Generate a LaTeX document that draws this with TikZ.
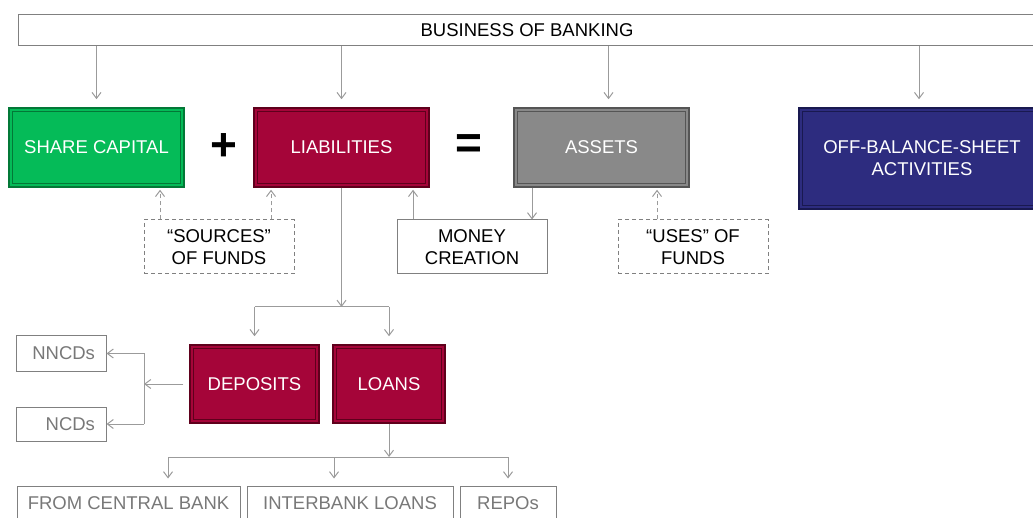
\documentclass[tikz,border=0pt]{standalone}
\usepackage{fontspec}
\setmainfont{Liberation Sans}
\usetikzlibrary{arrows.meta}
\definecolor{linegray}{RGB}{155,155,155}
\definecolor{boxgray}{RGB}{128,128,128}
\definecolor{txtgray}{RGB}{120,120,120}
\definecolor{sharegreen}{RGB}{5,187,88}
\definecolor{greenedge}{RGB}{3,120,55}
\definecolor{liabred}{RGB}{165,5,57}
\definecolor{rededge}{RGB}{95,0,28}
\definecolor{assetgray}{RGB}{137,137,137}
\definecolor{grayedge}{RGB}{85,85,85}
\definecolor{offblue}{RGB}{45,44,127}
\definecolor{blueedge}{RGB}{25,25,80}
\newcommand{\mytext}{\fontsize{18.5}{22}\selectfont}
\tikzset{%
  myedge/.style={-{Straight Barb[length=6pt,width=9pt]}, draw=linegray, line width=1pt},
  myline/.style={draw=linegray, line width=1pt},
  mydash/.style={myedge, dash pattern=on 4pt off 3pt},
  mybox/.style={draw=boxgray, line width=1pt, text=black, align=center, font=\mytext},
  mydashbox/.style={mybox, dash pattern=on 4pt off 3pt},
  mysmall/.style={mybox, text=txtgray, minimum height=34pt},
  mycolor/.style 2 args={fill=#1, draw=#2, line width=1.5pt, text=white, align=center, font=\mytext},
  mysign/.style={font=\fontsize{46}{46}\selectfont\bfseries}
}

\begin{document}
\begin{tikzpicture}[x=1pt, y=-1pt]
\useasboundingbox (0,0) rectangle (1033,518);

\node (business) [mybox, minimum width=1018pt, minimum height=31pt] at (527,30.5) {BUSINESS OF BANKING};

\node (share) [mycolor={sharegreen}{greenedge}, minimum width=175pt, minimum height=79pt] at (96.5,147.5) {SHARE CAPITAL};
\node (liab) [mycolor={liabred}{rededge}, minimum width=175pt, minimum height=79pt] at (341.5,147.5) {LIABILITIES};
\node (assets) [mycolor={assetgray}{grayedge}, minimum width=175pt, minimum height=79pt] at (601.5,147.5) {ASSETS};
\node (offbal) [mycolor={offblue}{blueedge}, minimum width=246pt, minimum height=101pt] at (922,158.5) {OFF-BALANCE-SHEET\\ACTIVITIES};

\node (plus) [mysign] at (224,147) {+};
\node (equals) [mysign] at (469,147) {=};

\node (sources) [mydashbox, minimum width=150pt, minimum height=54pt] at (219,247) {“SOURCES”\\OF FUNDS};
\node (money) [mybox, minimum width=150pt, minimum height=54pt] at (472,247) {MONEY\\CREATION};
\node (uses) [mydashbox, minimum width=150pt, minimum height=54pt] at (693,247) {“USES” OF\\FUNDS};

\node (deposits) [mycolor={liabred}{rededge}, minimum width=129pt, minimum height=78pt] at (254.5,384) {DEPOSITS};
\node (loans) [mycolor={liabred}{rededge}, minimum width=112pt, minimum height=78pt] at (389,384) {LOANS};

\node (nncds) [mysmall, text width=68pt, align=right, inner xsep=11pt, minimum height=35pt] at (61,353.5) {NNCDs};
\node (ncds) [mysmall, text width=68pt, align=right, inner xsep=11pt] at (61,424) {NCDs};

\node (central) [mysmall, minimum width=223pt] at (128.5,503) {FROM CENTRAL BANK};
\node (interbank) [mysmall, minimum width=206pt] at (350,503) {INTERBANK LOANS};
\node (repos) [mysmall, minimum width=96pt] at (508,503) {REPOs};

% inner bevel of the coloured boxes
\foreach \n/\c in {share/greenedge, liab/rededge, assets/grayedge, offbal/blueedge, deposits/rededge, loans/rededge} {
  \draw [\c, line width=0.7pt] ([shift={(4pt,-4pt)}]\n.north west) rectangle ([shift={(-4pt,4pt)}]\n.south east);
}

\foreach \n/\d in {share/0, liab/0, assets/7, offbal/-3} {
  \draw [myedge, shorten >=8pt] ([xshift=\d pt]\n.north |- business.south) -- ([xshift=\d pt]\n.north);
}

\draw [mydash, shorten >=2pt] ([xshift=-59pt]sources.north) -- ([xshift=-59pt]sources.north |- share.south);
\draw [mydash, shorten >=2pt] ([xshift=52pt]sources.north) -- ([xshift=52pt]sources.north |- liab.south);
\draw [myedge, shorten >=2pt] ([xshift=-59pt]money.north) -- ([xshift=-59pt]money.north |- liab.south);
\draw [myedge] ([xshift=60pt]money.north |- assets.south) -- ([xshift=60pt]money.north);
\draw [mydash, shorten >=2pt] ([xshift=-36pt]uses.north) -- ([xshift=-36pt]uses.north |- assets.south);

\coordinate (lsplit) at (341.5,307);
\draw [myedge] (liab.south) -- (lsplit);
\draw [myline] (lsplit -| deposits) -- (lsplit -| loans);
\draw [myedge, shorten >=8pt] (lsplit -| deposits) -- (deposits.north);
\draw [myedge, shorten >=8pt] (lsplit -| loans) -- (loans.north);

\coordinate (dsplit) at (144,384);
\draw [myedge, shorten <=6pt] (deposits.west) -- (dsplit);
\draw [myline] (dsplit |- nncds.east) -- (dsplit |- ncds.east);
\draw [myedge] (dsplit |- nncds.east) -- (nncds.east);
\draw [myedge] (dsplit |- ncds.east) -- (ncds.east);

\coordinate (bsplit) at (389,457);
\coordinate (b1) at (168,457);
\coordinate (b2) at (334,457);
\coordinate (b3) at (508,457);
\draw [myedge] (loans.south) -- (bsplit);
\draw [myline] (b1) -- (b3);
\foreach \c/\n in {b1/central, b2/interbank, b3/repos} {
  \draw [myedge, shorten >=7pt] (\c) -- (\c |- \n.north);
}
\end{tikzpicture}
\end{document}
